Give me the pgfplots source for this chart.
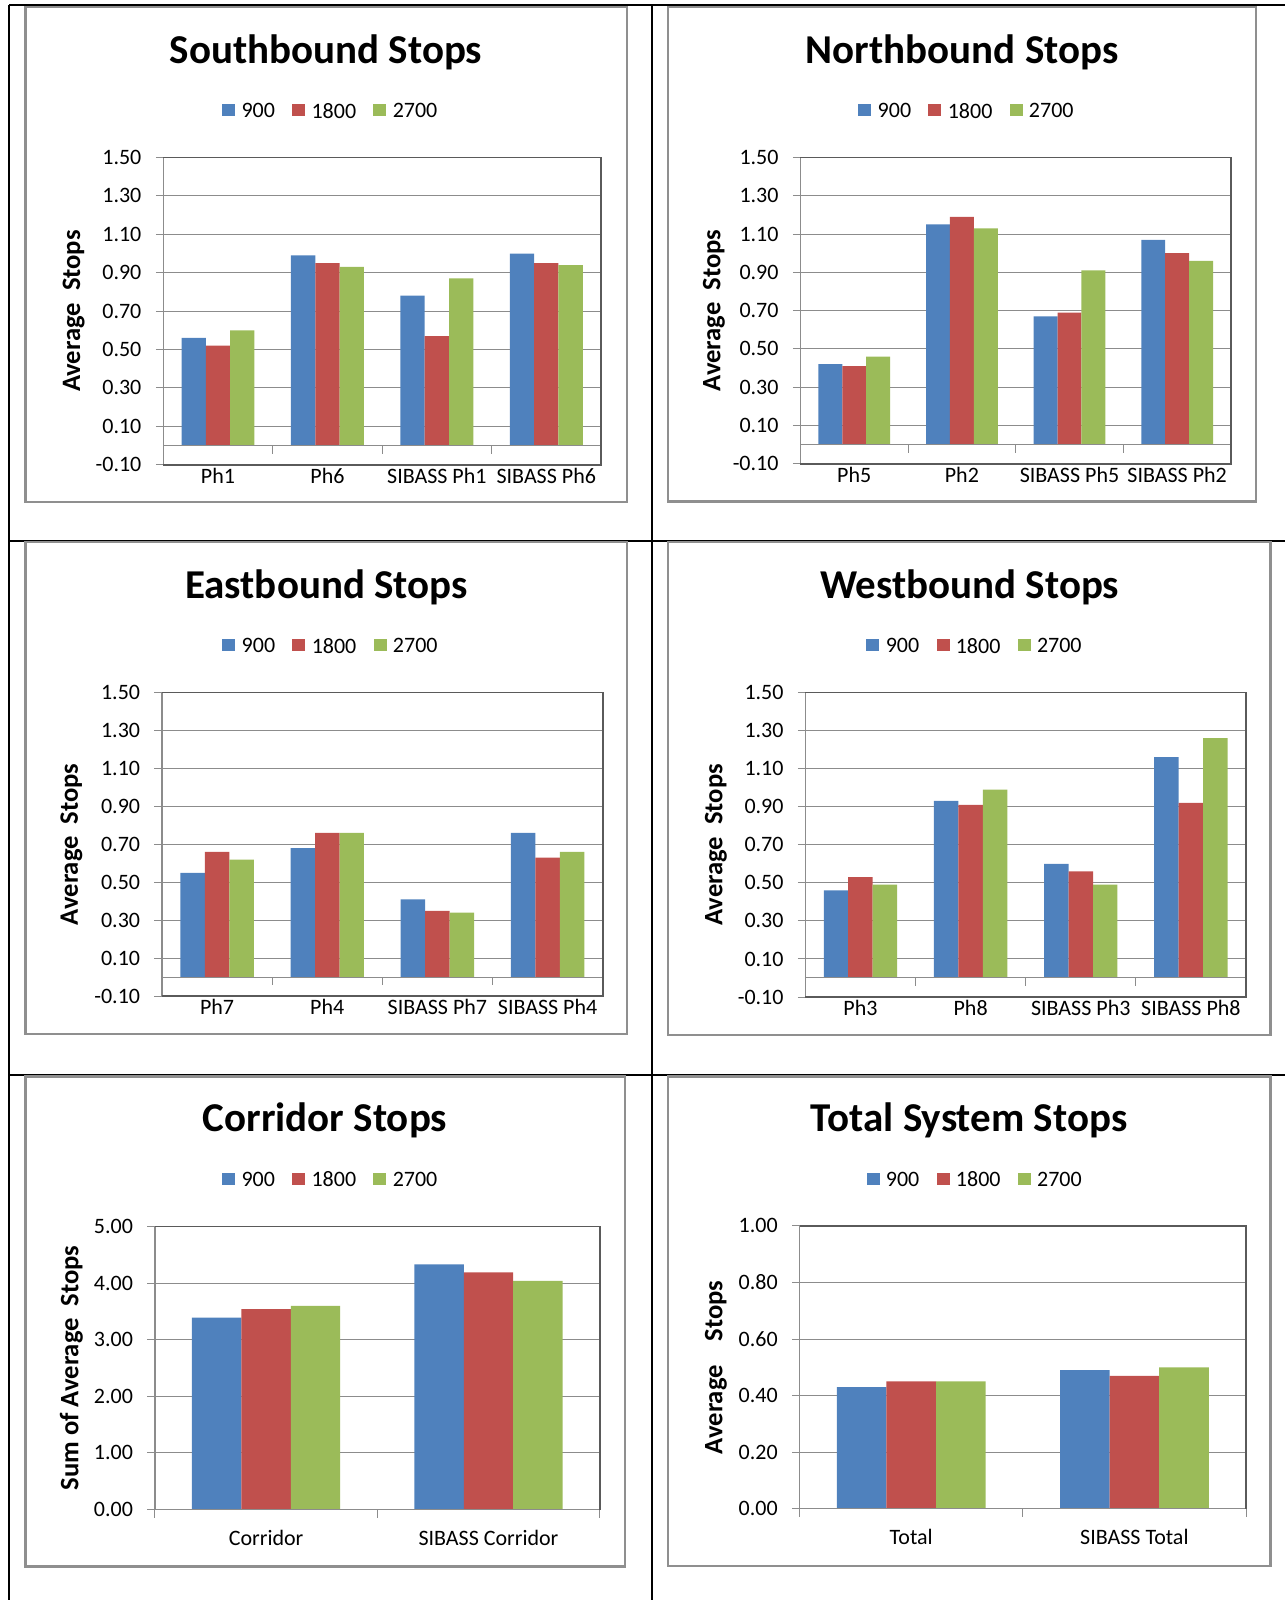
\documentclass[border=0pt]{standalone}
\usepackage{pgfplots}
\pgfplotsset{compat=1.18}
\usepackage{fontspec}
\setmainfont{Carlito}
\definecolor{cblue}{HTML}{4F81BD}
\definecolor{cred}{HTML}{C0504D}
\definecolor{cgreen}{HTML}{9BBB59}
\definecolor{gridgray}{HTML}{8C8C8C}
\definecolor{framegray}{HTML}{8F8F8F}
\definecolor{bordergray}{HTML}{5A5A5A}

\pgfplotsset{
  panel/.style={
    scale only axis,
    anchor=south west,
    enlargelimits=false,
    axis line style={draw=none},
    ymajorgrids,
    major grid style={draw=gridgray, line width=0.5pt},
    tick align=outside,
    major tick length=3.75pt,
    ytick pos=left,
    xtick pos=bottom,
    xtick style={draw=none},
    ytick style={draw=gridgray, line width=0.5pt},
    tick label style={font=\fontsize{11}{13}\selectfont},
    yticklabel style={anchor=east, inner sep=0pt, xshift=-7pt},
    xticklabel style={anchor=base, inner sep=0pt, yshift=-5.4pt},
    title style={font=\fontsize{20.5}{24}\selectfont\bfseries, anchor=base, inner sep=0pt, yshift=-6pt},
    ylabel style={font=\fontsize{13.3}{15}\selectfont\bfseries, anchor=center, inner sep=0pt},
    legend columns=3,
    legend cell align=left,
    legend style={draw=none, fill=none, anchor=center, inner sep=0pt, outer sep=0pt,
      font=\fontsize{11}{13}\selectfont,
      nodes={inner sep=0pt},
      /tikz/every odd column/.append style={column sep=3.15pt},
      /tikz/every even column/.append style={column sep=8.65pt}},
    ybar, bar width=0.2222,
    clip=false,
  },
  sqlegend/.style={legend image code/.code={\fill[##1] (0pt,-2pt) rectangle (6.5pt,4pt);}},
  b1/.style={fill=cblue, draw=none, bar shift=-0.2222, sqlegend},
  b2/.style={fill=cred, draw=none, bar shift=0, sqlegend},
  b3/.style={fill=cgreen, draw=none, bar shift=0.2222, sqlegend},
  fourcat/.style={
    xmin=-0.5, xmax=3.5, xtick={0,1,2,3},
    ymin=-0.1, ymax=1.5,
    ytick={-0.1,0.1,0.3,0.5,0.7,0.9,1.1,1.3,1.5},
    yticklabels={-0.10,0.10,0.30,0.50,0.70,0.90,1.10,1.30,1.50},
  },
  twocat/.style={
    xmin=-0.5, xmax=1.5, xtick={0,1},
    xticklabel style={yshift=-8.6pt},
  },
}

\newcommand{\fourdeco}{%
  \draw[gridgray, line width=0.5pt] (axis cs:-0.5,0) -- (axis cs:3.5,0);
  \draw[gridgray, line width=0.5pt] (axis cs:0.5,0) -- ++(0pt,-4pt) (axis cs:1.5,0) -- ++(0pt,-4pt) (axis cs:2.5,0) -- ++(0pt,-4pt);
  \draw[gridgray, line width=0.6pt] (rel axis cs:0,0) -- (rel axis cs:0,1);
  \draw[bordergray, line width=0.8pt] (rel axis cs:0,1) -- (rel axis cs:1,1) -- (rel axis cs:1,0) -- (rel axis cs:0,0);
}
\newcommand{\twodeco}{%
  \draw[gridgray, line width=0.6pt] (rel axis cs:0,0) -- (rel axis cs:1,0);
  \draw[gridgray, line width=0.5pt] (axis cs:-0.5,0) -- ++(0pt,-4pt) (axis cs:0.5,0) -- ++(0pt,-4pt) (axis cs:1.5,0) -- ++(0pt,-4pt);
  \draw[gridgray, line width=0.6pt] (rel axis cs:0,0) -- (rel axis cs:0,1);
  \draw[bordergray, line width=0.8pt] (rel axis cs:0,1) -- (rel axis cs:1,1) -- (rel axis cs:1,0);
}

\begin{document}
\begin{tikzpicture}
\path[use as bounding box] (0pt,0pt) rectangle (642.5pt,-800pt);
% table lines
\draw[black, line width=1pt] (4.65pt,-2.6pt) -- (642.5pt,-2.6pt);
\draw[black, line width=1pt] (4.65pt,-270.25pt) -- (642.5pt,-270.25pt);
\draw[black, line width=1pt] (4.65pt,-537.65pt) -- (642.5pt,-537.65pt);
\draw[black, line width=1pt] (4.65pt,-2.6pt) -- (4.65pt,-800pt);
\draw[black, line width=1pt] (326pt,-2.6pt) -- (326pt,-800pt);
% chart frames
\draw[framegray, line width=1.3pt] (12.65pt,-3.6pt) rectangle (313.5pt,-251pt);
\draw[framegray, line width=1.3pt] (334pt,-3.6pt) rectangle (627.9pt,-250.8pt);
\draw[framegray, line width=1.3pt] (12.65pt,-271pt) rectangle (313.5pt,-516.9pt);
\draw[framegray, line width=1.3pt] (334pt,-271pt) rectangle (635.3pt,-517.4pt);
\draw[framegray, line width=1.3pt] (12.65pt,-538.3pt) rectangle (312.5pt,-783.15pt);
\draw[framegray, line width=1.3pt] (334pt,-538.3pt) rectangle (635.3pt,-783pt);

% Panel 1: Southbound
\begin{axis}[panel, fourcat,
  at={(81.65pt,-232.35pt)}, width=218.85pt, height=153.6pt,
  xticklabels={Ph1,Ph6,SIBASS Ph1,SIBASS Ph6},
  title={Southbound Stops}, title style={at={(0.3713,1.3057)}},
  legend style={at={(0.3804,1.1481)}},
  ylabel={Average\ \ Stops}, ylabel style={at={(axis description cs:-0.2047,0.5)}},
]
\addplot[b1] coordinates {(0,0.56) (1,0.99) (2,0.78) (3,1.00)};
\addplot[b2] coordinates {(0,0.52) (1,0.95) (2,0.57) (3,0.95)};
\addplot[b3] coordinates {(0,0.60) (1,0.93) (2,0.87) (3,0.94)};
\legend{900,1800,2700}
\fourdeco
\end{axis}

% Panel 2: Northbound
\begin{axis}[panel, fourcat,
  at={(400.2pt,-231.85pt)}, width=215.3pt, height=153.1pt,
  xticklabels={Ph5,Ph2,SIBASS Ph5,SIBASS Ph2},
  title={Northbound Stops}, title style={at={(0.3753,1.3067)}},
  legend style={at={(0.3846,1.1486)}},
  ylabel={Average\ \ Stops}, ylabel style={at={(axis description cs:-0.2007,0.5)}},
]
\addplot[b1] coordinates {(0,0.42) (1,1.15) (2,0.67) (3,1.07)};
\addplot[b2] coordinates {(0,0.41) (1,1.19) (2,0.69) (3,1.00)};
\addplot[b3] coordinates {(0,0.46) (1,1.13) (2,0.91) (3,0.96)};
\legend{900,1800,2700}
\fourdeco
\end{axis}

% Panel 3: Eastbound
\begin{axis}[panel, fourcat,
  at={(81pt,-498.1pt)}, width=220.35pt, height=151.85pt,
  xticklabels={Ph7,Ph4,SIBASS Ph7,SIBASS Ph4},
  title={Eastbound Stops}, title style={at={(0.3730,1.3092)}},
  legend style={at={(0.3812,1.1498)}},
  ylabel={Average\ \ Stops}, ylabel style={at={(axis description cs:-0.2054,0.5)}},
]
\addplot[b1] coordinates {(0,0.55) (1,0.68) (2,0.41) (3,0.76)};
\addplot[b2] coordinates {(0,0.66) (1,0.76) (2,0.35) (3,0.63)};
\addplot[b3] coordinates {(0,0.62) (1,0.76) (2,0.34) (3,0.66)};
\legend{900,1800,2700}
\fourdeco
\end{axis}

% Panel 4: Westbound
\begin{axis}[panel, fourcat,
  at={(402.7pt,-498.5pt)}, width=220.3pt, height=152.25pt,
  xticklabels={Ph3,Ph8,SIBASS Ph3,SIBASS Ph8},
  title={Westbound Stops}, title style={at={(0.3727,1.3084)}},
  legend style={at={(0.3827,1.1494)}},
  ylabel={Average\ \ Stops}, ylabel style={at={(axis description cs:-0.2029,0.5)}},
]
\addplot[b1] coordinates {(0,0.46) (1,0.93) (2,0.60) (3,1.16)};
\addplot[b2] coordinates {(0,0.53) (1,0.91) (2,0.56) (3,0.92)};
\addplot[b3] coordinates {(0,0.49) (1,0.99) (2,0.49) (3,1.26)};
\legend{900,1800,2700}
\fourdeco
\end{axis}

% Panel 5: Corridor
\begin{axis}[panel, twocat,
  at={(77.45pt,-754.75pt)}, width=222.4pt, height=141.5pt,
  ymin=0, ymax=5, ytick={0,1,2,3,4,5},
  yticklabels={0.00,1.00,2.00,3.00,4.00,5.00},
  xticklabels={Corridor,SIBASS Corridor},
  title={Corridor Stops}, title style={at={(0.3824,1.3343)}},
  legend style={at={(0.3932,1.1625)}},
  ylabel={Sum of Average\ \ Stops}, ylabel style={at={(axis description cs:-0.1875,0.5)}},
]
\addplot[b1] coordinates {(0,3.39) (1,4.33)};
\addplot[b2] coordinates {(0,3.54) (1,4.19)};
\addplot[b3] coordinates {(0,3.60) (1,4.04)};
\legend{900,1800,2700}
\twodeco
\end{axis}

% Panel 6: Total System
\begin{axis}[panel, twocat,
  at={(399.8pt,-754.4pt)}, width=223.2pt, height=141.5pt,
  ymin=0, ymax=1, ytick={0,0.2,0.4,0.6,0.8,1},
  yticklabels={0.00,0.20,0.40,0.60,0.80,1.00},
  xticklabels={Total,SIBASS Total},
  title={Total System Stops}, title style={at={(0.3795,1.3318)}},
  legend style={at={(0.3911,1.1601)}},
  ylabel={Average\ \ \ \ Stops}, ylabel style={at={(axis description cs:-0.1873,0.5)}},
]
\addplot[b1] coordinates {(0,0.43) (1,0.49)};
\addplot[b2] coordinates {(0,0.45) (1,0.47)};
\addplot[b3] coordinates {(0,0.45) (1,0.50)};
\legend{900,1800,2700}
\twodeco
\end{axis}
\end{tikzpicture}
\end{document}
